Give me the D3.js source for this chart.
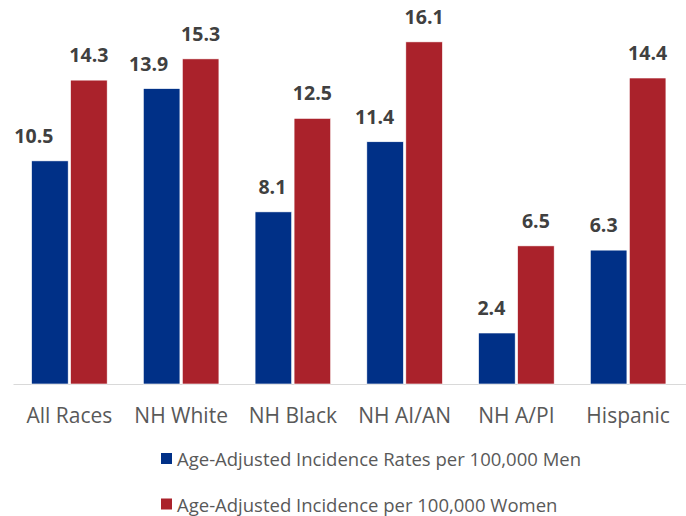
<!DOCTYPE html>
<html><head><meta charset="utf-8">
<script src="https://cdn.jsdelivr.net/npm/d3@7"></script>
<style>body{margin:0;background:#fff}svg{display:block}</style>
</head><body>
<svg id="c" width="686" height="516"></svg>
<script>
const categories = ["All Races","NH White","NH Black","NH AI/AN","NH A/PI","Hispanic"];
const menValues = [10.5,13.9,8.1,11.4,2.4,6.3];
const womenValues = [14.3,15.3,12.5,16.1,6.5,14.4];
const seriesNames = ["Age-Adjusted Incidence Rates per 100,000 Men","Age-Adjusted Incidence per 100,000 Women"];
const seriesColors = ["#003087","#AA222B"];
const yMax = 18;

(function(){
const svg = d3.select("#c");
const font = "'Open Sans', sans-serif";
const pLeft = 13.5, pRight = 684, pTop = 1.5, pBottom = 384;
const x = d3.scaleBand().domain(categories).range([pLeft, pRight]).paddingInner(0).paddingOuter(0);
const y = d3.scaleLinear().domain([0, yMax]).range([pBottom, pTop]);
const series = [menValues, womenValues];
const bw = 36.6, gap = 2.4;
const groupW = bw*2+gap;
// manual label nudges (layout only) as in the original chart
const labelNudge = [[-16,-13,-1,-10.5,-5.5,-5],[0,0,0,0,0,0]];

svg.append("line").attr("x1", pLeft).attr("x2", 686).attr("y1", pBottom+0.5).attr("y2", pBottom+0.5)
  .attr("stroke","#d9d9d9").attr("stroke-width",1.2);

series.forEach((vals, si) => {
  const g = svg.append("g");
  g.selectAll("rect").data(categories).join("rect")
    .attr("x", c => x(c) + (x.bandwidth()-groupW)/2 + si*(bw+gap))
    .attr("y", (c,i) => y(vals[i]))
    .attr("width", bw)
    .attr("height", (c,i) => pBottom - y(vals[i]))
    .attr("fill", seriesColors[si])
    .attr("stroke", "#ffffff").attr("stroke-width", 0.6);
  g.selectAll("text").data(categories).join("text")
    .attr("x", (c,i) => x(c) + (x.bandwidth()-groupW)/2 + si*(bw+gap) + bw/2 + labelNudge[si][i])
    .attr("y", (c,i) => y(vals[i]) - 18)
    .attr("text-anchor","middle")
    .attr("font-family", font).attr("font-weight","bold").attr("font-size", 19.5)
    .attr("fill","#404040")
    .text((c,i) => vals[i].toFixed(1));
});

const xAxis = d3.axisBottom(x).tickSize(0).tickPadding(0);
const ax = svg.append("g").attr("transform", `translate(0,${pBottom})`).call(xAxis);
ax.select(".domain").remove();
ax.selectAll("text").attr("font-family", font).attr("font-size", 21).attr("fill","#595959")
  .attr("dy", null).attr("y", 39.3);

const leg = svg.append("g");
seriesNames.forEach((n, i) => {
  const yy = 453 + i*45.5;
  leg.append("rect").attr("x",161).attr("y",yy).attr("width",11).attr("height",11).attr("fill",seriesColors[i]);
  leg.append("text").attr("x",177).attr("y",yy+13.3).attr("font-family",font).attr("font-size",18.5)
    .attr("fill","#595959").text(n);
});
})();
</script>
</body></html>
